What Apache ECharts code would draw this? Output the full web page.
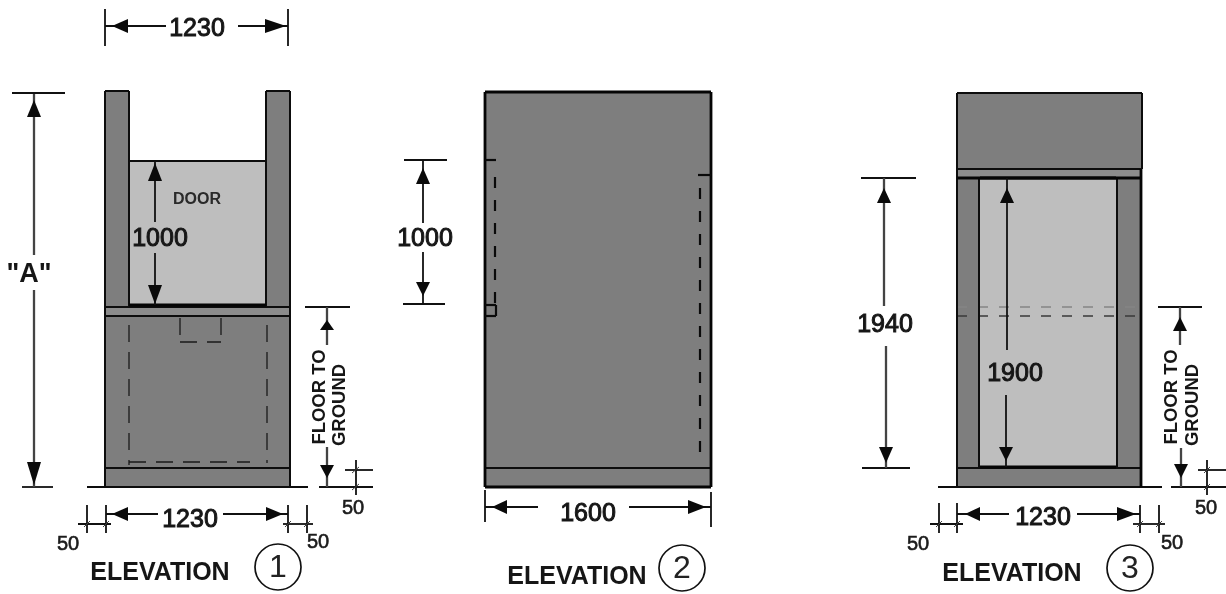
<!DOCTYPE html>
<html><head><meta charset="utf-8">
<style>html,body{margin:0;padding:0;background:#fff}#c{width:1226px;height:594px;filter:blur(0.35px)}</style>
<script src="https://cdn.jsdelivr.net/npm/echarts@6/dist/echarts.min.js"></script>
</head><body><div id="c"></div>
<script>
// Drawing: [x1, y1, x2, y2] in picture units
const darkPanels = [
  [105,91,129,307],[266,91,290,307],[105,307,290,487],
  [485,92,711,487],
  [957,93,1142,177],[957,177,980,468],[1116,177,1142,468],[957,468,1142,487]
];
const bandPanels = [[105,307,290,316],[957,169,1142,177]];
const lightPanels = [[129,161,266,306],[980,178,1116,467]];

const heavyLines = [
  [485,92,711,92],[485,487,711,487],[485,92,485,487],[711,92,711,487],
  [129,305,266,305],[980,178,1116,178],[980,467,1116,467],[1141,169,1141,487],[957,178,1141,178]
];
const frameLines = [
  [105,91,129,91],[266,91,290,91],[105,91,105,487],[290,91,290,487],[129,91,129,307],[266,91,266,307],
  [129,161,266,161],[105,307,290,307],[105,316,290,316],[105,468,290,468],[87,487,308,487],
  [485,468,711,468],
  [957,93,1142,93],[957,93,957,487],[1142,93,1142,169],[957,169,1142,169],[979,178,979,467],[1117,178,1117,467],
  [957,468,1142,468],[938,487,1162,487]
];
const dimLines = [
  [105,9,105,46],[288,9,288,46],[105,26,166,26],[238,26,288,26],
  [12,93,65,93],[22,487,53,487],
  [155,161,155,222],[155,253,155,305],
  [305,307,350,307],[319,487,373,487],
  [356,460,356,495],[345,470,373,470],
  [87,505,87,533],[106,505,106,533],[78,524,111,524],[106,514,158,514],[223,514,288,514],
  [288,505,288,533],[307,505,307,533],[283,524,313,524],
  [404,160,447,160],[403,304,445,304],[423,160,423,223],[423,252,423,304],
  [485,490,485,522],[711,492,711,527],[485,507,538,507],[629,507,711,507],
  [861,178,916,178],[862,468,910,468],
  [1007,178,1007,350],[1006,395,1006,467],
  [1158,307,1202,307],[1171,487,1226,487],
  [1207,460,1207,495],[1198,470,1226,470],
  [939,503,939,533],[957,503,957,533],[930,524,963,524],[957,514,1009,514],[1077,514,1140,514],
  [1140,505,1140,533],[1159,505,1159,533],[1133,524,1165,524]
];
const grayDimLines = [
  [34,94,34,255],[34,290,34,487],
  [327,307,327,345],[327,447,327,487],
  [884,178,884,306],[886,346,886,468],
  [1180,307,1180,345],[1181,448,1181,487]
];
const tickMarks = [
  [352,473,359,467],[352,490,359,484],
  [84,527,90,521],[103,527,109,521],[285,527,291,521],[304,527,310,521],
  [1204,473,1210,467],[1204,490,1210,484],
  [936,527,942,521],[954,527,960,521],[1137,527,1143,521],[1156,527,1162,521]
];
const shortDashLines = [
  [129,325,129,465],[267,325,267,463],[129,462,250,462],
  [180,318,180,342],[180,342,221,342],[221,318,221,342]
];
const stubLines = [
  [485,160,496,160],[485,305,496,305],[485,316,496,316],[496,305,496,316],[698,175,711,175]
];
const wallDashLines = [[495,177,495,305],[700,188,700,462]];
const doorDashDark = [[957,316,1135,316]];
const doorDashPale = [[957,307,1135,307]];

// Arrowheads: [tipX, tipY, baseX, baseY, halfWidth]
const arrowHeads = [
  [112,26,128,26,7],[286,26,265,26,7],
  [34,100,34,117,7],[34,485,34,462,7],
  [155,163,155,181,7],[155,304,155,285,7],
  [327,320,327,330,7],[327,478,327,465,7],
  [112,514,128,514,7],[283,514,266,514,7],
  [423,168,423,184,7],[423,296,423,282,7],
  [492,507,507,507,7],[706,507,688,507,7],
  [1007,188,1007,203,7],[1006,461,1006,447,7],
  [884,188,884,203,7],[886,463,886,447,7],
  [1180,317,1180,331,7],[1181,478,1181,464,7],
  [965,514,980,514,7],[1136,514,1117,514,7]
];
const circleCentres = [[278,567],[682,568],[1130,568]];
const circleDigitAt = [[278,568],[682,569],[1130,569]];
const circleDigits = ['1','2','3'];

const dimTexts = ['1230','1000','1230','1000','1600','1900','1940','1230'];
const dimTextAt = [[197,29],[160,239],[190,520],[425,239],[588,514],[1015,374],[885,325],[1043,518]];
const fiftyAt = [[353,508],[68,544],[318,542],[1206,508],[918,544],[1172,543]];
const titleAt = [[160,573],[577,577],[1012,574]];
const doorAt = [[197,200]];
const quoteAt = [[29,275]];
const sideTexts = ['FLOOR TO','GROUND','FLOOR TO','GROUND'];
const sideTextAt = [[320,397],[340,405],[1172,397],[1193,405]];

const chart = echarts.init(document.getElementById('c'), null, {renderer:'canvas'});

function rectSeries(data, fill, z){
  return {type:'custom', coordinateSystem:'cartesian2d', z, silent:true, data,
    encode:{x:[0,2], y:[1,3]},
    renderItem(p, api){
      const a = api.coord([api.value(0), api.value(1)]), b = api.coord([api.value(2), api.value(3)]);
      return {type:'rect', shape:{x:a[0], y:a[1], width:b[0]-a[0], height:b[1]-a[1]}, style:{fill}};
    }};
}
function lineSeries(data, stroke, lineWidth, z, lineDash){
  return {type:'custom', coordinateSystem:'cartesian2d', z, silent:true, data,
    encode:{x:[0,2], y:[1,3]},
    renderItem(p, api){
      const a = api.coord([api.value(0), api.value(1)]), b = api.coord([api.value(2), api.value(3)]);
      return {type:'line', shape:{x1:a[0], y1:a[1], x2:b[0], y2:b[1]},
        style:{stroke, lineWidth, lineDash: lineDash || null, fill:null}};
    }};
}
function arrowSeries(data, z){
  return {type:'custom', coordinateSystem:'cartesian2d', z, silent:true, data,
    encode:{x:[0,2], y:[1,3]},
    renderItem(p, api){
      const t = api.coord([api.value(0), api.value(1)]), b = api.coord([api.value(2), api.value(3)]);
      const h = api.value(4), dx = b[0]-t[0], dy = b[1]-t[1], l = Math.hypot(dx,dy) || 1;
      const nx = -dy/l*h, ny = dx/l*h;
      return {type:'polygon', shape:{points:[t,[b[0]+nx,b[1]+ny],[b[0]-nx,b[1]-ny]]}, style:{fill:'#0a0a0a'}};
    }};
}
function textSeries(points, textOf, font, fill, z, rotation, border){
  return {type:'custom', coordinateSystem:'cartesian2d', z, silent:true, data:points,
    encode:{x:0, y:1},
    renderItem(p, api){
      const a = api.coord([api.value(0), api.value(1)]);
      return {type:'text', x:a[0], y:a[1], rotation: rotation || 0,
        style:{text:textOf(p.dataIndex), font, fill, align:'center', verticalAlign:'middle',
          stroke: border ? fill : null, lineWidth: border || 0}};
    }};
}
function circleSeries(points, z){
  return {type:'custom', coordinateSystem:'cartesian2d', z, silent:true, data:points,
    encode:{x:0, y:1},
    renderItem(p, api){
      const a = api.coord([api.value(0), api.value(1)]);
      return {type:'circle', shape:{cx:a[0], cy:a[1], r:23}, style:{fill:'#fff', stroke:'#111', lineWidth:1.7}};
    }};
}
const sans = '"Liberation Sans", Arial, sans-serif';
chart.setOption({
  animation:false,
  backgroundColor:'#ffffff',
  grid:{left:0, right:0, top:0, bottom:0, containLabel:false},
  xAxis:{type:'value', min:0, max:1226, show:false},
  yAxis:{type:'value', min:0, max:594, inverse:true, show:false},
  tooltip:{show:false}, legend:{show:false},
  series:[
    rectSeries(darkPanels, '#7e7e7e', 1),
    rectSeries(bandPanels, '#8c8c8c', 2),
    rectSeries(lightPanels, '#bebebe', 3),
    lineSeries(doorDashPale, '#858585', 1.6, 4, [10,11]),
    lineSeries(doorDashDark, '#3a3a3a', 1.4, 4, [10,11]),
    lineSeries(frameLines, '#0d0d0d', 2, 5),
    lineSeries(heavyLines, '#050505', 2.8, 5),
    lineSeries(dimLines, '#111', 1.8, 6),
    lineSeries(grayDimLines, '#444', 2.3, 6),
    lineSeries(tickMarks, '#444', 1, 6),
    lineSeries(shortDashLines, '#1a1a1a', 1.3, 6, [17,10]),
    lineSeries(wallDashLines, '#0a0a0a', 2.2, 6, [11,12]),
    lineSeries(stubLines, '#0a0a0a', 2.2, 6),
    arrowSeries(arrowHeads, 7),
    circleSeries(circleCentres, 8),
    textSeries(circleDigitAt, i => circleDigits[i], '32px '+sans, '#222', 9),
    textSeries(dimTextAt, i => dimTexts[i], '25px '+sans, '#161616', 9, 0, 1),
    textSeries(fiftyAt, () => '50', '20px '+sans, '#1c1c1c', 9, 0, 0.6),
    textSeries(titleAt, () => 'ELEVATION', 'bold 25px '+sans, '#161616', 9),
    textSeries(doorAt, () => 'DOOR', 'bold 16px '+sans, '#2a2a2a', 9),
    textSeries(quoteAt, () => '"A"', 'bold 27px '+sans, '#161616', 9),
    textSeries(sideTextAt, i => sideTexts[i], 'bold 18.5px '+sans, '#161616', 9, Math.PI/2)
  ]
});
</script></body></html>
